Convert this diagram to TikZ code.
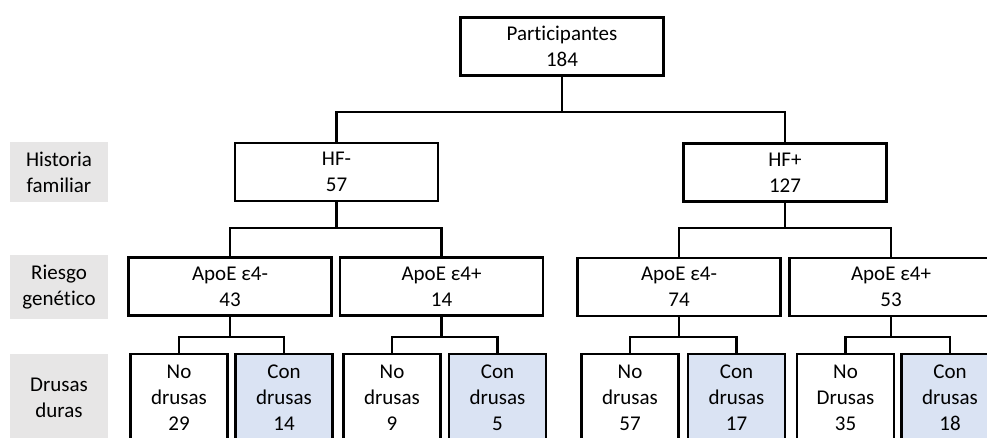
\documentclass[tikz,border=0pt]{standalone}
\usepackage{fontspec}
\setmainfont{Carlito}[Ligatures={NoCommon,NoContextual}]
\definecolor{drusafill}{HTML}{DAE3F3}
\definecolor{taggrey}{HTML}{E7E6E6}
\begin{document}
\begin{tikzpicture}[x=1pt,y=1pt,
  txt/.style={font=\fontsize{21}{26}\selectfont, align=center, text=black},
  box/.style={txt, draw=black, line width=2.6pt, fill=white, inner sep=0pt},
  group/.style={box, minimum width=203pt, minimum height=58pt},
  leaf/.style={box, minimum width=97pt, minimum height=88pt},
  withdrusas/.style={leaf, fill=drusafill},
  tag/.style={txt, fill=taggrey, inner sep=0pt, minimum width=98pt},
  conn/.style={draw=black, line width=2.4pt}
]
\useasboundingbox (0,0) rectangle (987,-437);
\clip (0,0) rectangle (987,-437);

% row labels
\node[tag, minimum height=60pt] (lhf)  at (59,-172) {Historia\\familiar};
\node[tag, minimum height=64pt] (lrg)  at (59,-287) {Riesgo\\genético};
\node[tag, minimum height=88pt] (ldr)  at (59,-398) {Drusas\\duras};

% tree
\node[group] (root)  at (562,-46.5) {Participantes\\184};
\node[group] (hfneg) at (336.5,-172) {HF-\\57};
\node[group] (hfpos) at (785,-172.5) {HF+\\127};

\node[group] (a1) at (230,-286.5) {ApoE ε4-\\43};
\node[group] (a2) at (441.5,-286.5) {ApoE ε4+\\14};
\node[group] (a3) at (679,-287) {ApoE ε4-\\74};
\node[group] (a4) at (891,-287) {ApoE ε4+\\53};

\node[leaf]       (b1) at (179,-398)   {No\\drusas\\29};
\node[withdrusas] (b2) at (284,-398)   {Con\\drusas\\14};
\node[leaf]       (b3) at (392,-398)   {No\\drusas\\9};
\node[withdrusas] (b4) at (497.5,-398) {Con\\drusas\\5};
\node[leaf]       (b5) at (630,-398)   {No\\drusas\\57};
\node[withdrusas] (b6) at (736.5,-398) {Con\\drusas\\17};
\node[leaf]       (b7) at (845.5,-398) {No\\Drusas\\35};
\node[withdrusas] (b8) at (950,-398)   {Con\\drusas\\18};

% branch points
\coordinate (s0) at (root.south |- 0,-112);
\coordinate (s1) at (hfneg.south |- 0,-228);
\coordinate (s2) at (hfpos.south |- 0,-228);
\coordinate (t1) at (a1.south |- 0,-337);
\coordinate (t2) at (a2.south |- 0,-337);
\coordinate (t3) at (a3.south |- 0,-337);
\coordinate (t4) at (a4.south |- 0,-337);

% connectors
\draw[conn] (root.south) -- (s0);
\draw[conn] (hfneg.north) |- (s0) -| (hfpos.north);

\draw[conn] (hfneg.south) -- (s1);
\draw[conn] (a1.north) |- (s1) -| (a2.north);
\draw[conn] (hfpos.south) -- (s2);
\draw[conn] (a3.north) |- (s2) -| (a4.north);

\draw[conn] (a1.south) -- (t1);
\draw[conn] (b1.north) |- (t1) -| (b2.north);
\draw[conn] (a2.south) -- (t2);
\draw[conn] (b3.north) |- (t2) -| (b4.north);
\draw[conn] (a3.south) -- (t3);
\draw[conn] (b5.north) |- (t3) -| (b6.north);
\draw[conn] (a4.south) -- (t4);
\draw[conn] (b7.north) |- (t4) -| (b8.north);
\end{tikzpicture}
\end{document}
